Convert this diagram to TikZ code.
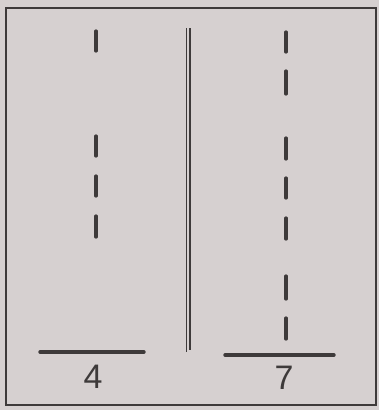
\documentclass[tikz,border=0pt]{standalone}
\usepackage{fontspec}
\setmainfont{Liberation Sans}
\definecolor{bg}{RGB}{214,208,208}
\definecolor{ink}{RGB}{62,58,58}
\begin{document}
\begin{tikzpicture}[x=1pt,y=-1pt,
  ink line/.style={draw=ink,line width=3.2pt,line cap=round},
  frame line/.style={draw=ink,line width=2.6pt},
  center line/.style={draw=ink,line width=1.4pt},
  label text/.style={text=ink,font=\fontsize{34}{34}\selectfont,inner sep=0pt}]
\fill[bg] (0,0) rectangle (379,410);
\useasboundingbox (0,0) rectangle (379,410);
\draw[frame line] (6,8) rectangle (376,405);
% center double line
\draw[center line] (186.5,28) -- (186.5,352);
\draw[center line] (189.8,28) -- (189.8,350);
% left dashes
\foreach \a/\b in {31/51,136/156,176/196,216/237}
  \draw[ink line] (96,\a) -- (96,\b);
% right dashes
\foreach \a/\b in {32/52,71/94,138/159,178/198,218/239,276/299,318/339}
  \draw[ink line] (286,\a) -- (286,\b);
% baselines
\draw[ink line,line width=3.4pt] (40,352) -- (144,352);
\draw[ink line,line width=3.4pt] (225,355) -- (334,355);
\node[label text] (four) at (93,377) {4};
\node[label text] (seven) at (284,378) {7};
\end{tikzpicture}
\end{document}
